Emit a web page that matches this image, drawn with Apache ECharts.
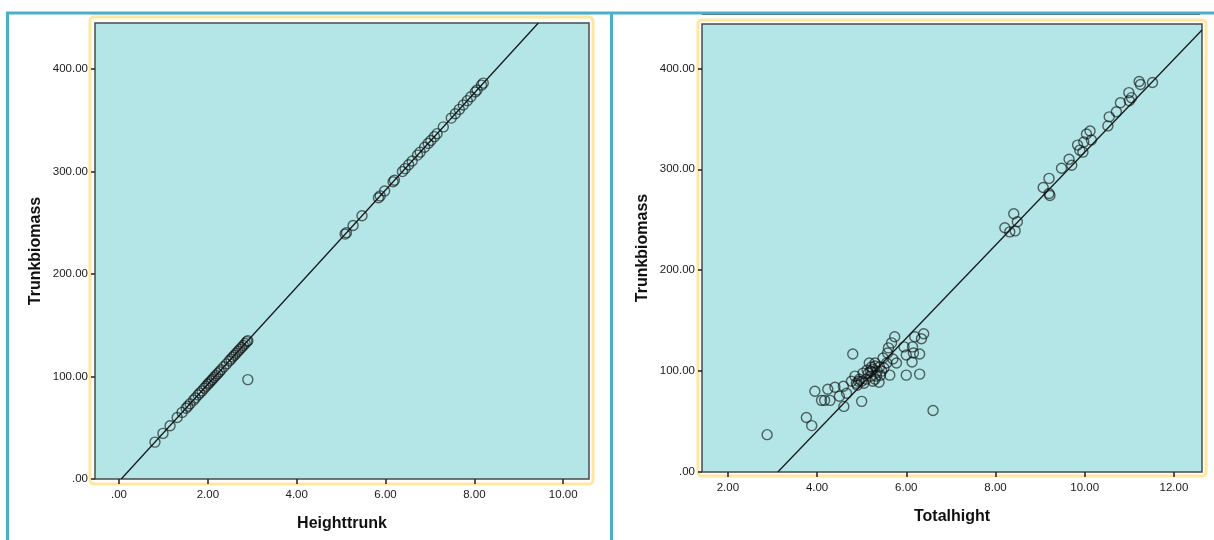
<!DOCTYPE html>
<html>
<head>
<meta charset="utf-8">
<script src="https://cdn.jsdelivr.net/npm/echarts@6/dist/echarts.min.js"></script>
<style>html,body{margin:0;padding:0;background:#fff}#c{width:1214px;height:540px}</style>
</head>
<body>
<div id="c"></div>
<script>
// ---- Data ----
const heightTrunk = [0.81,0.99,1.15,1.31,1.42,1.51,1.55,1.60,1.68,1.72,1.78,1.82,1.87,1.92,1.96,2.00,2.03,2.07,2.10,2.14,2.18,2.22,2.26,2.30,2.36,2.42,2.48,2.52,2.56,2.60,2.64,2.68,2.72,2.76,2.80,2.84,2.88,2.90,2.90,
  5.09,5.12,5.27,5.47,5.84,5.88,5.98,6.17,6.20,6.38,6.44,6.52,6.60,6.72,6.78,6.88,6.96,7.02,7.10,7.16,7.30,7.48,7.57,7.66,7.75,7.84,7.92,8.02,8.06,8.16,8.20];
const trunkBiomassA = [36,44.5,52,60,65,69,71,73.4,77,79,82,84,86,88.6,90.5,92.4,93.8,95.7,97.1,99,101,102.8,104.7,106.6,109.5,112.3,115.2,117,119,120.8,122.7,124.6,126.5,128.4,130.3,132.2,134.1,135,97,
  239,240.3,247.4,256.9,274.4,276.3,281,290,291.5,300,302.9,306.6,310.4,316.1,319,323.7,327.5,330.3,334.1,337,343.6,352.2,356.4,360.7,365,369.2,373,377.7,379.6,384.4,386.3];
const totalHight = [2.88,3.76,3.88,3.95,4.10,4.17,4.29,4.24,4.40,4.50,4.59,4.60,4.66,4.77,4.80,4.85,4.90,4.93,5.00,5.03,5.17,5.22,5.30,5.33,5.39,5.48,5.56,5.60,5.63,5.67,5.74,5.78,5.95,6.00,6.00,6.14,6.16,6.13,6.19,6.30,6.30,6.34,6.39,6.60,
  5.20,5.25,5.30,5.35,5.40,5.20,5.30,5.10,5.00,5.15,5.45,5.50,5.05,4.95,5.25,4.88,5.12,5.42,5.70,5.58,
  8.21,8.32,8.44,8.41,8.49,9.07,9.20,9.20,9.22,9.48,9.65,9.71,9.84,9.89,9.98,10.04,10.12,10.15,9.96,10.55,10.52,10.71,10.80,10.99,11.00,11.05,11.22,11.25,11.52];
const trunkBiomassB = [37,54,46,80,71,71,71,82,84,75,85,65,78,90,117,95,86,90,70,98,108,104,108,95,89,113,108,123,96,128,134,108,124,116,96,124,118,109,134,117,97,132,137,61,
  100,102,105,100,104,95,92,92,90,98,100,103,88,92,90,88,101,96,112,118,
  242,238,239,256,248,282,291,276,274,301,310,304,324,319,327,335,338,329,317,352,343,357,366,376,368,371,387,384,386];
const fitA = [[0.05,0],[9.44,445]];
const fitB = [[3.12,0],[12.63,438]];
const xTicksA = [0,2,4,6,8,10];
const xTicksB = [2,4,6,8,10,12];
const yTicks = [0,100,200,300,400];

const pairs = (xs, ys) => xs.map((x, i) => [x, ys[i]]);
const fmt = v => { const s = Number(v).toFixed(2); return s.startsWith('0.') ? s.slice(1) : s; };

const FONT = 'Liberation Sans';
const tealBg = '#b4e6e8';
const frameBlue = '#4aafc9';
const yellow = '#ffe7a0';

function xAxis(gi, min, max, ticks, name) {
  return {
    type: 'value', gridIndex: gi, min, max, name, nameLocation: 'middle', nameGap: 37,
    nameTextStyle: { fontFamily: FONT, fontWeight: 'bold', fontSize: 16, color: '#111' },
    axisLine: { show: false, onZero: false },
    axisTick: { show: true, length: 5, customValues: ticks, lineStyle: { color: '#222', width: 1.5 } },
    axisLabel: { customValues: ticks, formatter: fmt, margin: 10, fontFamily: FONT, fontSize: 11.5, color: '#1a1a1a' },
    splitLine: { show: false }
  };
}
function yAxis(gi, max, name) {
  return {
    type: 'value', gridIndex: gi, min: 0, max, name, nameLocation: 'middle', nameGap: 51,
    nameTextStyle: { fontFamily: FONT, fontWeight: 'bold', fontSize: 16, color: '#111' },
    axisLine: { show: false, onZero: false },
    axisTick: { show: true, length: 4, customValues: yTicks, lineStyle: { color: '#222', width: 1.5 } },
    axisLabel: { customValues: yTicks, formatter: fmt, margin: 7, fontFamily: FONT, fontSize: 11.5, color: '#1a1a1a' },
    splitLine: { show: false }
  };
}
const pointStyle = { color: 'rgba(0,0,0,0)', borderColor: 'rgba(15,15,15,0.78)', borderWidth: 1.4 };

const chart = echarts.init(document.getElementById('c'), null, { renderer: 'canvas' });
chart.setOption({
  animation: false,
  backgroundColor: '#fff',
  graphic: [
    { type: 'rect', shape: { x: 90, y: 17, width: 503, height: 467, r: 4 }, style: { fill: 'none', stroke: yellow, lineWidth: 3 }, z: -1 },
    { type: 'rect', shape: { x: 698, y: 20, width: 508, height: 456, r: 4 }, style: { fill: 'none', stroke: yellow, lineWidth: 3 }, z: -1 },
    { type: 'line', shape: { x1: 91, y1: 14, x2: 590, y2: 14 }, style: { stroke: '#c8c8c8', lineWidth: 1 } },
    { type: 'line', shape: { x1: 702, y1: 14.5, x2: 1200, y2: 14.5 }, style: { stroke: '#555', lineWidth: 1.2 } },
    { type: 'line', shape: { x1: 6, y1: 13, x2: 1214, y2: 13 }, style: { stroke: frameBlue, lineWidth: 3 } },
    { type: 'line', shape: { x1: 7.5, y1: 12, x2: 7.5, y2: 540 }, style: { stroke: frameBlue, lineWidth: 3 } },
    { type: 'line', shape: { x1: 611.5, y1: 12, x2: 611.5, y2: 540 }, style: { stroke: frameBlue, lineWidth: 3 } }
  ],
  grid: [
    { left: 95, top: 23, width: 494, height: 456, show: true, backgroundColor: tealBg, borderColor: '#4a4a4a', borderWidth: 1.5 },
    { left: 702, top: 24, width: 500, height: 448, show: true, backgroundColor: tealBg, borderColor: '#4a4a4a', borderWidth: 1.5 }
  ],
  xAxis: [xAxis(0, -0.54, 10.58, xTicksA, 'Heighttrunk'), xAxis(1, 1.42, 12.63, xTicksB, 'Totalhight')],
  yAxis: [yAxis(0, 445, 'Trunkbiomass'), yAxis(1, 444, 'Trunkbiomass')],
  series: [
    { type: 'line', xAxisIndex: 0, yAxisIndex: 0, data: fitA, symbol: 'none', clip: true, lineStyle: { color: '#1a1a1a', width: 1.3 }, z: 3 },
    { type: 'scatter', xAxisIndex: 0, yAxisIndex: 0, data: pairs(heightTrunk, trunkBiomassA), symbol: 'circle', symbolSize: 10, itemStyle: pointStyle, z: 4 },
    { type: 'line', xAxisIndex: 1, yAxisIndex: 1, data: fitB, symbol: 'none', clip: true, lineStyle: { color: '#1a1a1a', width: 1.3 }, z: 3 },
    { type: 'scatter', xAxisIndex: 1, yAxisIndex: 1, data: pairs(totalHight, trunkBiomassB), symbol: 'circle', symbolSize: 10, itemStyle: pointStyle, z: 4 }
  ]
});
</script>
</body>
</html>
